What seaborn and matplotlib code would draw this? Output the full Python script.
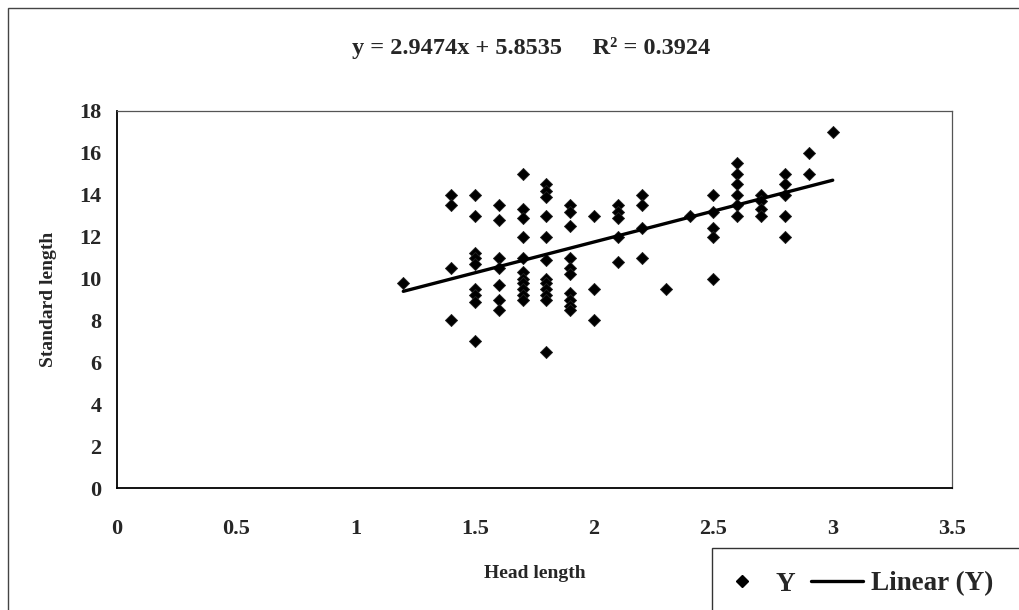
import matplotlib
matplotlib.use("Agg")
import matplotlib.pyplot as plt
import seaborn as sns
import numpy as np
import pandas as pd
from matplotlib.patches import Rectangle
from matplotlib.lines import Line2D

# ---- data ----
head_length = (
    [1.2]
    + [1.4] * 4
    + [1.5] * 9
    + [1.6] * 7
    + [1.7] * 11
    + [1.8] * 12
    + [1.9] * 10
    + [2.0] * 3
    + [2.1] * 5
    + [2.2] * 4
    + [2.3]
    + [2.4]
    + [2.5] * 5
    + [2.6] * 6
    + [2.7] * 4
    + [2.8] * 5
    + [2.9] * 2
    + [3.0]
)
standard_length = (
    [9.8]
    + [14, 13.5, 10.5, 8]
    + [14, 13, 11.2, 11, 10.7, 9.5, 9.2, 8.9, 7]
    + [13.5, 12.8, 11, 10.5, 9.7, 9, 8.5]
    + [15, 13.3, 12.9, 12, 11, 10.3, 10, 9.8, 9.5, 9.2, 9]
    + [14.5, 14.2, 13.9, 13, 12, 10.9, 10, 9.8, 9.5, 9.2, 9, 6.5]
    + [13.5, 13.2, 12.5, 11, 10.5, 10.2, 9.3, 9, 8.7, 8.5]
    + [13, 9.5, 8]
    + [13.5, 13.2, 12.9, 12, 10.8]
    + [14, 13.5, 12.4, 11]
    + [9.5]
    + [13]
    + [14, 13.2, 12.4, 12, 10]
    + [15.5, 15, 14.5, 14, 13.5, 13]
    + [14, 13.7, 13.3, 13]
    + [15, 14.5, 14, 13, 12]
    + [16, 15]
    + [17]
)
slope = 2.9474
intercept = 5.8535
r_squared = 0.3924
x_ticks = [0, 0.5, 1, 1.5, 2, 2.5, 3, 3.5]
x_tick_labels = ["0", "0.5", "1", "1.5", "2", "2.5", "3", "3.5"]
y_ticks = [0, 2, 4, 6, 8, 10, 12, 14, 16, 18]

df = pd.DataFrame({"Head length": head_length, "Standard length": standard_length})
x_fit = np.array([min(head_length), max(head_length)])
fit_df = pd.DataFrame({"x": x_fit, "y": slope * x_fit + intercept})

sns.set_theme(style="white")
plt.rcParams["font.family"] = ["Liberation Serif", "DejaVu Serif"]
plt.rcParams["font.weight"] = "bold"

fig = plt.figure(figsize=(10.19, 6.10), dpi=100)
ax = fig.add_axes([117 / 1019, 1 - 488 / 610, (952 - 117) / 1019, (488 - 111) / 610])

sns.scatterplot(data=df, x="Head length", y="Standard length", ax=ax,
                marker="D", s=38, color="black", edgecolor="#222222",
                linewidth=0.6, legend=False, zorder=3)
sns.lineplot(data=fit_df, x="x", y="y", ax=ax, color="black", linewidth=2.4,
             legend=False, zorder=4)

ax.set_xlim(0, 3.5)
ax.set_ylim(0, 18)
ax.set_xticks(x_ticks)
ax.set_xticklabels(x_tick_labels)
ax.set_yticks(y_ticks)
ax.tick_params(axis="both", which="major", direction="inout", length=8,
               width=0.8, color="#333333", labelsize=16)
for lab in ax.get_xticklabels() + ax.get_yticklabels():
    lab.set_fontweight("bold")
ax.tick_params(axis="x", pad=18)
ax.tick_params(axis="y", pad=7)

for side in ["left", "bottom"]:
    ax.spines[side].set_color("black")
    ax.spines[side].set_linewidth(1.3)
for side in ["top", "right"]:
    ax.spines[side].set_color("#555555")
    ax.spines[side].set_linewidth(0.9)

ax.set_xlabel("Head length", fontsize=14, fontweight="bold", labelpad=19)
ax.set_ylabel("Standard length", fontsize=14, fontweight="bold", labelpad=16)

fig.text(531 / 1019, 1 - 48 / 610,
         f"y = {slope}x + {intercept}     R\u00b2 = {r_squared}",
         ha="center", va="center", fontsize=17.5, fontweight="bold")

# outer chart frame
fig.patches.append(Rectangle((8 / 1019, -0.05), 1.2, 1 - 8 / 610 + 0.05,
                             transform=fig.transFigure, fill=False,
                             edgecolor="#444444", linewidth=1.0))
# legend box running off the bottom-right edge
fig.patches.append(Rectangle((712 / 1019, -0.05), 0.5, (610 - 548) / 610 + 0.05,
                             transform=fig.transFigure, fill=True,
                             facecolor="white", edgecolor="#333333",
                             linewidth=1.0, zorder=5))

handles = [
    Line2D([], [], marker="D", color="black", linestyle="none", markersize=6.5),
    Line2D([], [], color="black", linewidth=2.4),
]
leg = fig.legend(handles, ["Y", "Linear (Y)"], loc="center left",
                 bbox_to_anchor=(716 / 1019, 1 - 584 / 610), ncol=2,
                 frameon=False, handlelength=1.9,
                 columnspacing=0.6, borderpad=0.0, handletextpad=0.3,
                 borderaxespad=0.0,
                 prop={"weight": "bold", "size": 19.5})
leg.set_zorder(6)

fig.savefig("out.png", dpi=100, facecolor="white")
